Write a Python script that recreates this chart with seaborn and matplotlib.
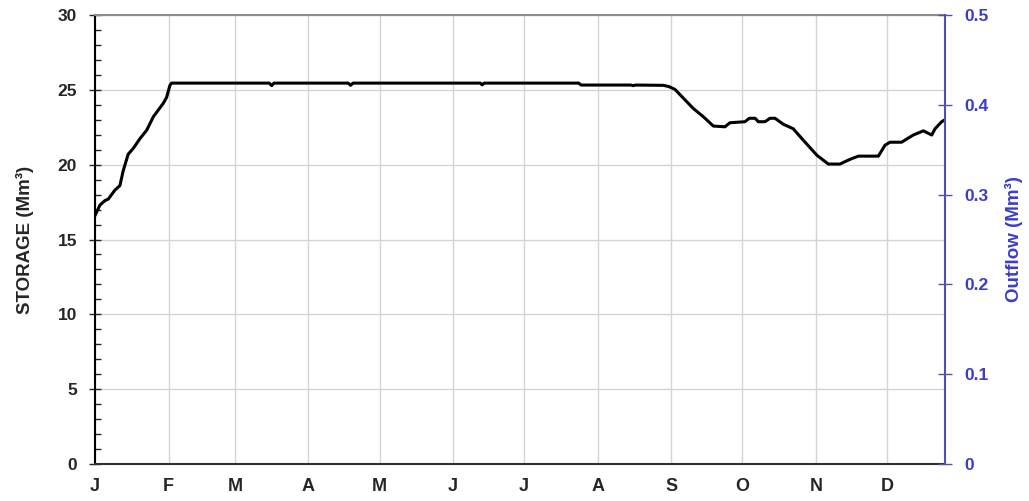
import numpy as np
import pandas as pd
import matplotlib
matplotlib.use("Agg")
import matplotlib.pyplot as plt
import seaborn as sns
from matplotlib.ticker import MultipleLocator

# storage curve (day of year, Mm3)
days = [0, 2.1, 4.2, 5.6, 8.4, 10.5, 11.9, 14, 16.2, 19, 21.8, 24.6, 28.8, 30.2,
        31.6, 32.3, 73.5, 74.5, 75.5, 106.8, 107.8, 108.8, 162.5, 163.3, 164.1,
        204, 205, 226, 227, 228, 239.7, 242, 244.6, 252.3, 256.6, 260.8, 265.7,
        267.8, 274.1, 276, 278.4, 279.8, 282.6, 284.7, 286.8, 290.3, 294.5,
        298.7, 304.4, 309.3, 314.2, 316.3, 319.1, 322, 330.4, 333.2, 335.3,
        340.2, 345.1, 349.4, 352.9, 354.3, 357.1, 358.5]
storage = [16.6, 17.3, 17.6, 17.7, 18.3, 18.6, 19.6, 20.7, 21.1, 21.75, 22.3,
           23.2, 24.1, 24.5, 25.3, 25.45, 25.45, 25.28, 25.45, 25.45, 25.3,
           25.45, 25.45, 25.33, 25.45, 25.45, 25.32, 25.32, 25.28, 25.32, 25.3,
           25.22, 25.03, 23.76, 23.2, 22.58, 22.53, 22.8, 22.87, 23.1, 23.1,
           22.87, 22.87, 23.1, 23.1, 22.7, 22.4, 21.64, 20.64, 20.04, 20.04,
           20.2, 20.4, 20.57, 20.57, 21.3, 21.5, 21.5, 21.98, 22.26, 21.98,
           22.4, 22.87, 23.0]

month_starts = [0, 31, 59, 90, 120, 151, 181, 212, 243, 273, 304, 334]
month_labels = ["J", "F", "M", "A", "M", "J", "J", "A", "S", "O", "N", "D"]

outflow_ticks = [0, 0.1, 0.2, 0.3, 0.4, 0.5]
outflow_labels = ["0", "0.1", "0.2", "0.3", "0.4", "0.5"]

BLUE = "#3c3cc8"
BLUE_SPINE = "#5050b0"

sns.set_style("white")
plt.rcParams["font.family"] = ["Liberation Sans", "DejaVu Sans"]
plt.rcParams["font.weight"] = "bold"

fig = plt.figure(figsize=(10.29, 5.01), dpi=100)
ax = fig.add_axes([95 / 1029, 1 - 464 / 501, 850 / 1029, 449 / 501])

df = pd.DataFrame({"day": days, "storage": storage})
sns.lineplot(df, x="day", y="storage", ax=ax, color="black", linewidth=2.2)

ax.set_xlim(0, 358.5)
ax.set_ylim(0, 30)
ax.set_xticks(month_starts)
ax.set_xticklabels(month_labels, fontsize=13, fontweight="bold")
ax.yaxis.set_major_locator(MultipleLocator(5))
ax.yaxis.set_minor_locator(MultipleLocator(1))
ax.tick_params(axis="y", which="major", direction="inout", length=8, width=1,
               labelsize=12.5, pad=9)
ax.tick_params(axis="y", which="minor", direction="in", length=4, width=1)
ax.tick_params(axis="x", direction="out", length=5, width=1, pad=5)
for lbl in ax.get_yticklabels():
    lbl.set_fontweight("bold")
ax.grid(True, which="major", color="#d4d4d4", linewidth=1)
ax.set_axisbelow(True)
ax.set_xlabel("")
ax.set_ylabel("STORAGE (Mm³)", fontsize=13.5, fontweight="bold", labelpad=17)
ax.spines["left"].set_color("black")
ax.spines["bottom"].set_color("#303030")
ax.spines["bottom"].set_linewidth(1.5)
ax.spines["left"].set_linewidth(1.5)
ax.spines["top"].set_color("#8c8c8c")
ax.spines["top"].set_linewidth(1.5)
ax.spines["right"].set_visible(False)

ax2 = ax.twinx()
ax2.set_ylim(0, 0.5)
ax2.set_yticks(outflow_ticks)
ax2.set_yticklabels(outflow_labels, fontsize=12.5, fontweight="bold", color=BLUE)
ax2.tick_params(axis="y", direction="inout", length=10, width=1, colors=BLUE_SPINE,
                labelcolor=BLUE, pad=9)
ax2.set_ylabel("Outflow (Mm³)", fontsize=13.5, fontweight="bold", color=BLUE,
               labelpad=12)
ax2.grid(False)
for s in ["left", "top", "bottom"]:
    ax2.spines[s].set_visible(False)
ax2.spines["right"].set_color(BLUE_SPINE)
ax2.spines["right"].set_linewidth(1.5)

fig.savefig("out.png", dpi=100)
